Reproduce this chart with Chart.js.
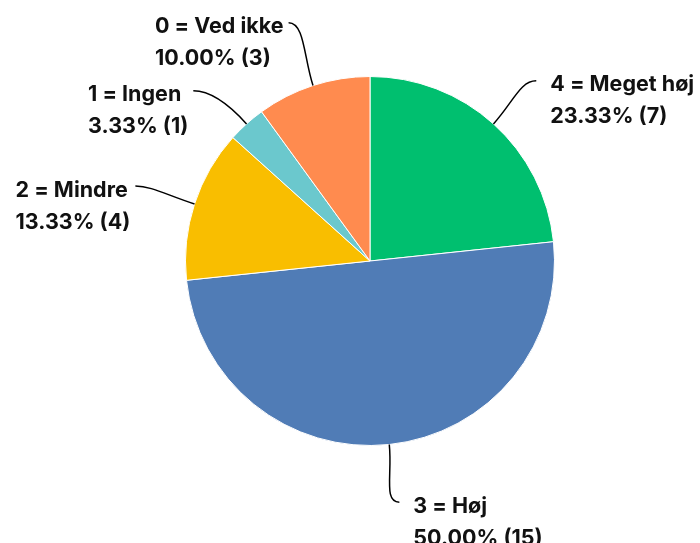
<!DOCTYPE html>
<html>
<head>
<meta charset="utf-8">
<script src="https://cdn.jsdelivr.net/npm/chart.js@4/dist/chart.umd.min.js"></script>
<style>
  html, body { margin: 0; padding: 0; background: #fff; }
  #wrap { width: 700px; height: 543px; }
</style>
</head>
<body>
<div id="wrap"><canvas id="pieChart"></canvas></div>
<script>
// svar i rækkefølge fra kl. 12 og med uret
const categories = ['4 = Meget høj', '3 = Høj', '2 = Mindre', '1 = Ingen', '0 = Ved ikke'];
const counts = [7, 15, 4, 1, 3];
const percents = ['23.33%', '50.00%', '13.33%', '3.33%', '10.00%'];
const colors = ['#00BF6F', '#507CB6', '#F9BE00', '#6BC8CD', '#FF8B4F'];

const labelFont = '700 21.5px Inter';
const blockGap = 68;

// tegner labels med buede streger ud fra hvert stykke
const leaderLabels = {
  id: 'leaderLabels',
  afterDatasetsDraw(chart) {
    const ctx = chart.ctx;
    const meta = chart.getDatasetMeta(0);

    const items = meta.data.map((arc, i) => {
      const p = arc.getProps(['x', 'y', 'startAngle', 'endAngle', 'outerRadius'], true);
      const mid = (p.startAngle + p.endAngle) / 2;
      const cx = Math.cos(mid), cy = Math.sin(mid);
      const reach = p.outerRadius + 58 + (cy < -0.9 ? 8 : 0);
      return {
        i, p, cx, cy, reach,
        right: cx >= 0,
        x0: p.x + cx * p.outerRadius,
        y0: p.y + cy * p.outerRadius,
        y3: p.y + cy * reach
      };
    });

    // skub labels ned så de ikke overlapper
    [true, false].forEach(side => {
      const group = items.filter(it => it.right === side).sort((a, b) => a.y3 - b.y3);
      for (let k = 1; k < group.length; k++) {
        if (group[k].y3 < group[k - 1].y3 + blockGap) group[k].y3 = group[k - 1].y3 + blockGap;
      }
    });

    ctx.save();
    ctx.font = labelFont;
    ctx.textBaseline = 'middle';
    items.forEach(it => {
      const {p, cx, cy, x0, y0, y3, right} = it;
      const h = right ? -1 : 1;
      const dy = y3 - p.y;
      const dx = Math.sqrt(Math.max(it.reach * it.reach - dy * dy, 0));
      const x3 = p.x + (right ? dx : -dx) - h * 4;

      ctx.beginPath();
      ctx.moveTo(x0, y0);
      ctx.bezierCurveTo(x0 + cx * 30, y0 + cy * 30, x3 + h * 16, y3, x3, y3);
      ctx.strokeStyle = '#000';
      ctx.lineWidth = 1.5;
      ctx.stroke();

      const line1 = categories[it.i];
      const line2 = percents[it.i] + ' (' + counts[it.i] + ')';
      const w = Math.max(ctx.measureText(line1).width, ctx.measureText(line2).width);
      const tx = right ? x3 + 14 : x3 - 5 - w;
      ctx.fillStyle = '#111';
      ctx.textAlign = 'left';
      ctx.fillText(line1, tx, y3 + 4);
      ctx.fillText(line2, tx, y3 + 36);
    });
    ctx.restore();
  }
};

new Chart(document.getElementById('pieChart'), {
  type: 'pie',
  data: {
    labels: categories,
    datasets: [{
      data: counts,
      backgroundColor: colors,
      borderColor: '#fff',
      borderWidth: 1
    }]
  },
  options: {
    responsive: true,
    maintainAspectRatio: false,
    animation: false,
    layout: { padding: { top: 76, bottom: 97, left: 185, right: 145 } },
    plugins: {
      legend: { display: false },
      tooltip: { enabled: false }
    }
  },
  plugins: [leaderLabels]
});
</script>
</body>
</html>
